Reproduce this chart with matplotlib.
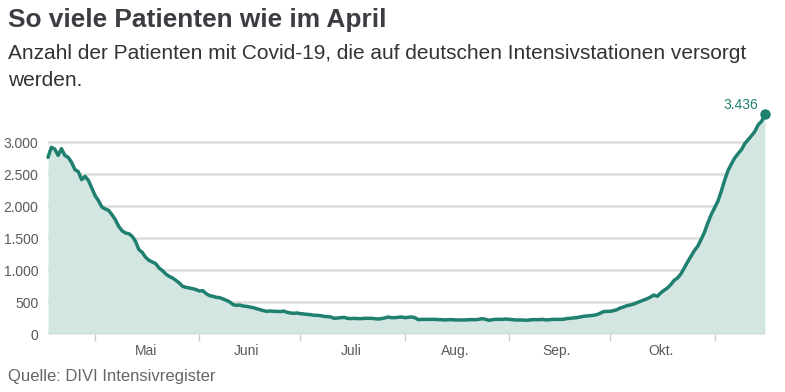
import matplotlib
matplotlib.use("Agg")
import matplotlib.pyplot as plt
import pandas as pd

title = "So viele Patienten wie im April"
subtitle = "Anzahl der Patienten mit Covid-19, die auf deutschen Intensivstationen versorgt\nwerden."
source = "Quelle: DIVI Intensivregister"

start_date = "2020-04-17"
patients = [
    2760, 2917, 2890, 2791, 2896, 2791, 2760, 2682, 2568, 2536,
    2411, 2463, 2401, 2281, 2161, 2083, 1984, 1953, 1932, 1864,
    1786, 1682, 1614, 1578, 1568, 1526, 1448, 1318, 1276, 1198,
    1151, 1125, 1099, 1031, 990, 937, 901, 875, 838, 797,
    745, 729, 719, 708, 693, 672, 677, 630, 599, 589,
    573, 568, 547, 526, 500, 458, 448, 453, 437, 432,
    422, 411, 396, 380, 365, 354, 359, 354, 354, 349,
    359, 339, 328, 323, 328, 318, 312, 307, 302, 292,
    292, 286, 276, 271, 266, 245, 250, 255, 260, 245,
    240, 245, 240, 240, 245, 245, 245, 240, 234, 240,
    250, 266, 255, 255, 260, 266,
    255, 260, 266, 255, 224, 229, 229, 229, 229, 229,
    224, 224, 219, 224, 224, 219, 219, 219, 219, 224,
    224, 224, 229, 240, 229, 214, 224, 229, 229, 229,
    234, 229, 224, 219, 219, 219, 214, 219, 224, 224,
    224, 229, 219, 224, 229, 229, 229, 229, 240, 245,
    250, 255, 266, 276, 281, 286, 292, 302, 323, 349,
    354, 354, 365, 380, 406, 422, 443, 453, 469, 490,
    510, 531, 552, 578, 609, 589, 641, 682, 719, 771,
    838, 875, 937, 1031, 1125, 1213, 1302, 1370, 1474, 1588,
    1734, 1864, 1969, 2073, 2229, 2401, 2552, 2656, 2750, 2818,
    2880, 2974, 3036, 3099, 3166, 3270, 3323, 3436,
]
y_ticks = [0, 500, 1000, 1500, 2000, 2500, 3000]
y_tick_labels = ["0", "500", "1.000", "1.500", "2.000", "2.500", "3.000"]
month_starts = ["2020-05-01", "2020-06-01", "2020-07-01", "2020-08-01", "2020-09-01", "2020-10-01", "2020-11-01"]
month_mids = ["2020-05-16", "2020-06-15", "2020-07-16", "2020-08-16", "2020-09-15", "2020-10-16"]
month_labels = ["Mai", "Juni", "Juli", "Aug.", "Sep.", "Okt."]
last_label = "3.436"

dates = pd.date_range(start_date, periods=len(patients), freq="D")

plt.rcParams['font.family'] = ['Liberation Sans', 'DejaVu Sans']

W, H = 785, 392
fig = plt.figure(figsize=(W / 100, H / 100), dpi=100)
ax = fig.add_axes([48 / W, 1 - 334 / H, (765 - 48) / W, (334 - 110) / H])

line_c = "#1f8070"
fill_c = "#d3e6e2"
tick_c = "#5a5a5a"

ax.fill_between(dates, patients, 0, color=fill_c, lw=0, zorder=1)
for yt in y_ticks[1:]:
    ax.axhline(yt, color="#dcdcdc", lw=1.8, zorder=0.5)
ax.plot(dates, patients, color=line_c, lw=2.5, zorder=3, solid_joinstyle="round",
        solid_capstyle="round", clip_on=False)
ax.plot(dates[-1:], patients[-1:], "o", color=line_c, ms=6.5, zorder=4, clip_on=False)
ax.annotate(last_label, (dates[-1], patients[-1]), xytext=(-5, 1.5), textcoords="offset points",
            ha="right", va="bottom", color=line_c, fontsize=10)

ax.set_xlim(dates[0], dates[-1])
ax.set_ylim(0, 3500)
for s in ax.spines.values():
    s.set_visible(False)
ax.axhline(0, color="#c8dcd8", lw=1.5, zorder=2)

ax.set_yticks(y_ticks)
ax.set_yticklabels(y_tick_labels)
ax.tick_params(axis="y", length=0, pad=7, labelsize=10, labelcolor=tick_c)

ax.set_xticks(pd.to_datetime(month_starts))
ax.set_xticklabels([])
ax.tick_params(axis="x", which="major", length=5, color="#cccccc", width=1)
ax.set_xticks(pd.to_datetime(month_mids), minor=True)
ax.set_xticklabels(month_labels, minor=True)
ax.tick_params(axis="x", which="minor", length=0, pad=7, labelsize=10, labelcolor=tick_c)

fig.text(8 / W, 1 - 27 / H, title, fontsize=18.9, fontweight="bold", color="#3c3c42", va="baseline", ha="left")
fig.text(8 / W, 1 - 86 / H, subtitle, fontsize=15, color="#333333", va="baseline", ha="left", linespacing=1.55)
fig.text(8 / W, 1 - 376 / H, source, fontsize=12, color="#666666", va="center", ha="left")

fig.savefig("out.png", dpi=100)
